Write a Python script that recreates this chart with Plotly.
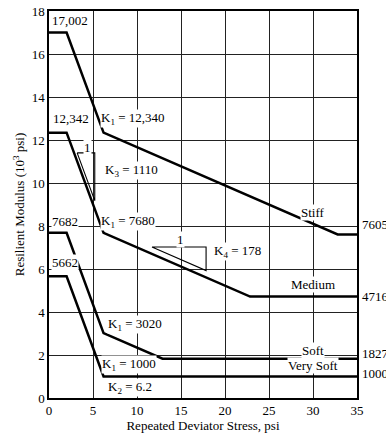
import plotly.graph_objects as go

# Data (psi, 10^3 psi)
stiff_x = [0, 2, 6.2, 32.8, 35]
stiff_y = [17.002, 17.002, 12.34, 7.605, 7.605]
medium_x = [0, 2, 6.2, 22.85, 35]
medium_y = [12.342, 12.342, 7.68, 4.716, 4.716]
soft_x = [0, 2, 6.2, 12.9, 35]
soft_y = [7.682, 7.682, 3.02, 1.827, 1.827]
vsoft_x = [0, 2, 6.2, 35]
vsoft_y = [5.662, 5.662, 1.0, 1.0]

x_ticks = [0, 5, 10, 15, 20, 25, 30, 35]
y_ticks = [0, 2, 4, 6, 8, 10, 12, 14, 16, 18]

FONT = "Liberation Serif, Times New Roman, serif"

fig = go.Figure()
for xs, ys in [(stiff_x, stiff_y), (medium_x, medium_y), (soft_x, soft_y), (vsoft_x, vsoft_y)]:
    fig.add_trace(go.Scatter(x=xs, y=ys, mode="lines",
                             line=dict(color="black", width=2.5),
                             showlegend=False, hoverinfo="skip"))

# slope triangles (1 : K3) and (1 : K4)
tri = [
    ([3.2, 5.2, 5.2, 3.2], [11.4, 11.4, 11.4 - 2 * 1.11, 11.4]),
    ([11.7, 17.85, 17.85, 11.7], [7.02, 7.02, 7.02 - 6.15 * 0.178, 7.02]),
]
for tx, ty in tri:
    fig.add_trace(go.Scatter(x=tx, y=ty, mode="lines",
                             line=dict(color="black", width=1.1),
                             showlegend=False, hoverinfo="skip"))

labels = [
    ("17,002", 0.23, 17.58),
    ("12,342", 0.34, 13.02),
    ("K<sub>1</sub> = 12,340", 5.8, 13.02),
    ("K<sub>3</sub> = 1110", 6.25, 10.6),
    ("7682", 0.23, 8.19),
    ("K<sub>1</sub> = 7680", 5.8, 8.19),
    ("5662", 0.23, 6.28),
    ("K<sub>4</sub> = 178", 18.6, 6.8),
    ("K<sub>1</sub> = 3020", 6.6, 3.44),
    ("K<sub>1</sub> = 1000", 5.9, 1.58),
    ("K<sub>2</sub> = 6.2", 6.6, 0.51),
]
annotations = []
for t, x, y in labels:
    annotations.append(dict(text=t, x=x, y=y, xanchor="left", yanchor="middle",
                            showarrow=False, bgcolor="white", borderpad=0,
                            font=dict(family=FONT, size=13, color="black")))

center_labels = [
    ("1", 4.4, 11.67),
    ("1", 14.9, 7.35),
    ("Stiff", 30, 8.65),
    ("Medium", 30, 5.26),
    ("Soft", 30, 2.19),
    ("Very Soft", 30, 1.49),
]
for t, x, y in center_labels:
    annotations.append(dict(text=t, x=x, y=y, xanchor="center", yanchor="middle",
                            showarrow=False, bgcolor="white", borderpad=0,
                            font=dict(family=FONT, size=13, color="black")))

right_labels = [("7605", 8.09), ("4716", 4.74), ("1827", 2.09), ("1000", 1.16)]
for t, y in right_labels:
    annotations.append(dict(text=t, x=35, y=y, xanchor="left", yanchor="middle",
                            xshift=3, showarrow=False,
                            font=dict(family=FONT, size=13, color="black")))

fig.update_layout(
    width=386, height=435,
    margin=dict(l=49, r=29, t=11, b=37, autoexpand=False),
    paper_bgcolor="white", plot_bgcolor="white",
    font=dict(family=FONT, size=13, color="black"),
    annotations=annotations,
    showlegend=False,
)
fig.update_xaxes(range=[0, 35], tickvals=x_ticks, ticks="", showgrid=True,
                 gridcolor="#222", gridwidth=1, showline=True, linecolor="black",
                 linewidth=1.5, mirror=True, zeroline=False, automargin=False,
                 title=dict(text="Repeated Deviator Stress, psi", standoff=2,
                            font=dict(family=FONT, size=13)),
                 tickfont=dict(family=FONT, size=13))
fig.update_yaxes(range=[0, 18], tickvals=y_ticks, ticks="", showgrid=True,
                 gridcolor="#222", gridwidth=1, showline=True, linecolor="black",
                 linewidth=1.5, mirror=True, zeroline=False, automargin=False,
                 title=dict(text="Resilient Modulus (10<sup>3</sup> psi)", standoff=4,
                            font=dict(family=FONT, size=13)),
                 tickfont=dict(family=FONT, size=13))

# remove the page's default body margin so the figure fills the window exactly
fig.write_html("out.html",
               config={"displayModeBar": False},
               post_script="document.body.style.margin='0';"
                           "document.body.style.overflow='hidden';")
